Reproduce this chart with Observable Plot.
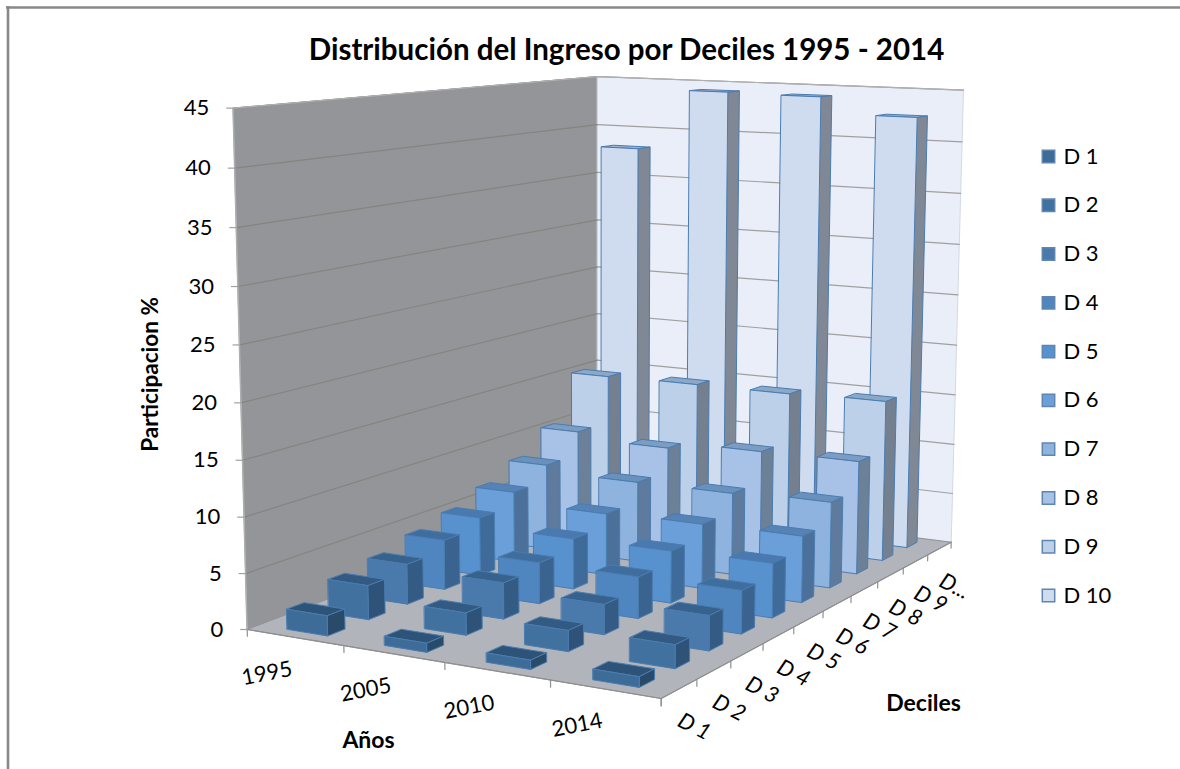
<!DOCTYPE html>
<html><head><meta charset="utf-8">
<script src="https://cdn.jsdelivr.net/npm/d3@7"></script>
<script src="https://cdn.jsdelivr.net/npm/@observablehq/plot@0.6"></script>
<style>html,body{margin:0;padding:0;background:#fff;overflow:hidden}svg{display:block}</style>
</head><body><div id="chart"></div>
<script>
const anios = ["1995","2005","2010","2014"];
const deciles = ["D 1","D 2","D 3","D 4","D 5","D 6","D 7","D 8","D 9","D 10"];
const decilesEje = ["D 1","D 2","D 3","D 4","D 5","D 6","D 7","D 8","D 9","D..."];
const d1995 = [1.8,3.1,3.7,4.65,5.55,6.85,8.4,10.7,15.4,38.1];
const d2005 = [0.8,2.0,3.3,3.8,4.75,5.9,7.8,10.1,15.5,44.2];
const d2010 = [0.8,1.85,2.7,3.8,4.85,6.1,7.85,10.8,15.5,44.1];
const d2014 = [0.9,2.05,3.1,3.9,5.0,6.2,8.15,10.9,15.7,42.5];
const series = [d1995,d2005,d2010,d2014];
const ticksY = [0,5,10,15,20,25,30,35,40,45];
const frontColors = ["#3e6c99","#41729f","#4a7aac","#4f86c0","#5792cf","#6a9fd9","#8fb3df","#a7c2e6","#bcd0ea","#cfdcef"];
const sideColors = ["#2a4a6a","#2f5378","#345b84","#3a6390","#3f6b9b","#4b7099","#5e7a9c","#6c8097","#747f90","#7f8894"];
const topColors = ["#2e5378","#325a82","#38628e","#3f6d9e","#4979ae","#5682b6","#6a90bc","#7d9cc2","#8ba8c9","#9ab1cf"];

// Camera: years (0..4), deciles (0..10), percent (0..45) onto the page
const cam = {a:356.89,b:494.39,c:246.7,d:8.67,e:-12.04,f:629,g:-0.08644,h:0.24136,px:-22.99,py:-525.5,pw:-0.03863};
function proj(u,v,z){
  const s=u/4,t=v/10,k=z/45,W=1+cam.g*s+cam.h*t+cam.pw*k;
  return [(cam.c+cam.a*s+cam.b*t+cam.px*k)/W,(cam.f+cam.d*s+cam.e*t+cam.py*k)/W];
}
let pid=0;
function poly(arr,pts,fill,stroke){const id=pid++;for(const p of pts){const [x,y]=proj(...p);arr.push({id,x,y,fill,stroke});}}
let lid=0;
function line(arr,pts,stroke){const id=lid++;for(const p of pts){const [x,y]=proj(...p);arr.push({id,x,y,stroke});}}

const wallPolys=[],barPolys=[],gridLines=[];
poly(wallPolys,[[0,0,0],[0,10,0],[0,10,45],[0,0,45]],"#939598","#a7a8a9");
poly(wallPolys,[[0,10,0],[4,10,0],[4,10,45],[0,10,45]],"#e9eef9","#d5d9e2");
poly(wallPolys,[[0,0,0],[4,0,0],[4,10,0],[0,10,0]],"#b1b4ba","#8f9194");
for(const t of ticksY){
  if(t>0){
    line(gridLines,[[0,0,t],[0,10,t]],"#85857f");
    line(gridLines,[[0,10,t],[4,10,t]],"#a0a0a0");
  }
}
line(gridLines,[[0,0,45],[0,10,45],[4,10,45]],"#b0b0b0");
line(gridLines,[[0,0,0],[0,0,45]],"#b0b0b0");
line(gridLines,[[0,0,0],[4,0,0],[4,10,0]],"#8f8f8f");
for(let i=0;i<=4;i++) line(gridLines,[[i,0,0],[i,0,-0.6]],"#8f8f8f");
for(let i=0;i<=10;i++) line(gridLines,[[4,i,0],[4,i,-0.6]],"#8f8f8f");

// bars, from the back of the scene to the front
const half=0.21;
anios.forEach((_,yi)=>{
  for(let di=9;di>=0;di--){
    const z=series[yi][di],u0=yi+.5-half,u1=yi+.5+half,v0=di+.5-half,v1=di+.5+half;
    poly(barPolys,[[u0,v0,z],[u1,v0,z],[u1,v1,z],[u0,v1,z]],topColors[di],"#4a7cb0");
    poly(barPolys,[[u1,v0,0],[u1,v1,0],[u1,v1,z],[u1,v0,z]],sideColors[di],"#4a7cb0");
    poly(barPolys,[[u0,v0,0],[u1,v0,0],[u1,v0,z],[u0,v0,z]],frontColors[di],"#4a7cb0");
  }
});

const yTickRows=ticksY.map(t=>{const [x,y]=proj(0,0,t);return {t,x,y,x0:x-7};});
const yearRows=anios.map((a,i)=>{const [x,y]=proj(i+.5,0,0);return {a,x,y};});
const decRows=decilesEje.map((a,i)=>{const [x,y]=proj(4,i+.5,0);return {a,x,y};});
const legendY=d3.scalePoint(deciles,[156,595]);
const legendRows=deciles.map((d,i)=>({d,i,y:legendY(d)}));
const font="Lato";

const plot=Plot.plot({
  width:1180,height:769,margin:0,
  x:{domain:[0,1180],range:[0,1180],axis:null},
  y:{domain:[0,769],range:[0,769],axis:null},
  color:{type:"identity"},
  style:{fontFamily:font,background:"#fff"},
  marks:[
    Plot.ruleY([7],{x1:6,x2:1180,stroke:"#888",strokeWidth:2.4}),
    Plot.ruleX([7.5],{y1:6,y2:769,stroke:"#888",strokeWidth:2.6}),
    Plot.line(wallPolys,{x:"x",y:"y",z:"id",fill:"fill",stroke:"stroke",strokeWidth:1,curve:"linear-closed"}),
    Plot.line(gridLines,{x:"x",y:"y",z:"id",stroke:"stroke",strokeWidth:1.2}),
    Plot.line(barPolys,{x:"x",y:"y",z:"id",fill:"fill",stroke:"stroke",strokeWidth:1,curve:"linear-closed"}),
    Plot.link(yTickRows,{x1:"x0",x2:"x",y1:"y",y2:"y",stroke:"#a0a0a0",strokeWidth:1.2}),
    Plot.text(yTickRows,{x:"x0",y:"y",text:d=>String(d.t),textAnchor:"end",dx:-17,fontSize:22,fill:"#000"}),
    Plot.text(yearRows,{x:"x",y:"y",text:"a",dx:-28,dy:36,rotate:-11,fontSize:22,fill:"#000"}),
    Plot.text(decRows,{x:"x",y:"y",text:"a",dx:15,dy:38,rotate:27,fontSize:22,fontStyle:"italic",fill:"#000"}),
    Plot.dot(legendRows,{x:()=>1048,y:"y",symbol:"square",r:7,fill:d=>frontColors[d.i],stroke:"#5f86ae"}),
    Plot.text(legendRows,{x:()=>1063,y:"y",text:"d",textAnchor:"start",fontSize:22,fill:"#000"}),
    Plot.text(["Distribución del Ingreso por Deciles 1995 - 2014"],{x:()=>626,y:()=>50,text:d=>d,fontSize:29.5,fontWeight:"bold",fill:"#000"}),
    Plot.text(["Participacion %"],{x:()=>150,y:()=>374,text:d=>d,rotate:-90,fontSize:22.5,fontWeight:"bold",fill:"#000"}),
    Plot.text(["Años"],{x:()=>368,y:()=>740,text:d=>d,fontSize:23,fontWeight:"bold",fill:"#000"}),
    Plot.text(["Deciles"],{x:()=>923,y:()=>703,text:d=>d,fontSize:23,fontWeight:"bold",fill:"#000"})
  ]
});
document.getElementById("chart").append(plot);
</script></body></html>
